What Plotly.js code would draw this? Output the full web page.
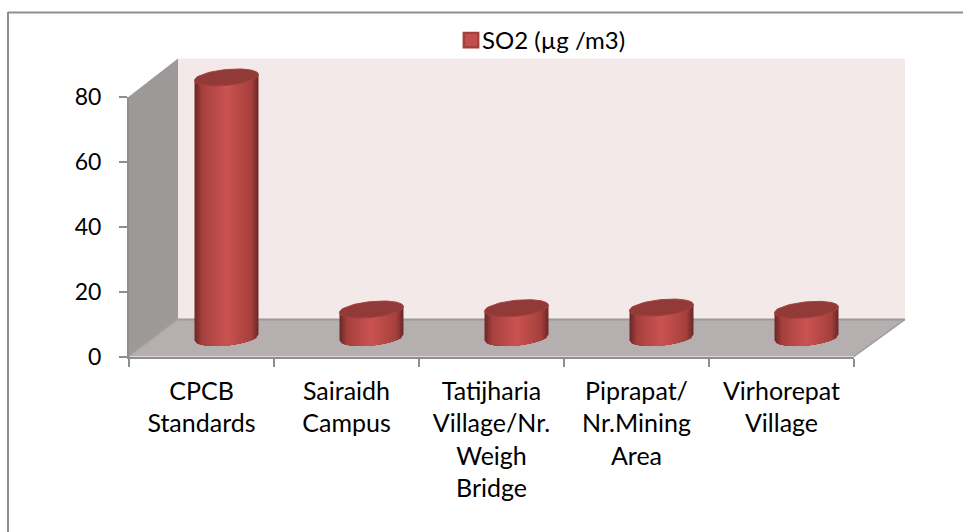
<!DOCTYPE html>
<html>
<head>
<meta charset="utf-8">
<script src="https://cdn.plot.ly/plotly-3.0.1.min.js"></script>
<style>html,body{margin:0;padding:0;background:#fff}#chart{width:963px;height:532px}</style>
</head>
<body>
<div id="chart"></div>
<script>
// ---- data ----
const categories = [
  "CPCB<br>Standards",
  "Sairaidh<br>Campus",
  "Tatijharia<br>Village/Nr.<br>Weigh<br>Bridge",
  "Piprapat/<br>Nr.Mining<br>Area",
  "Virhorepat<br>Village"
];
const so2Values = [80, 8.6, 9, 9.2, 8.5];
const seriesName = "SO2 (µg /m3)";
const yTicks = [0, 20, 40, 60, 80];

// ---- page geometry (pixels) ----
const W = 963, H = 532;
const fx = p => p / W, fy = p => 1 - p / H;
const front = {l: 129, r: 854, b: 356.5, t: 96.5};
const depth = {dx: 49, dy: 38};
const mid = {dx: 25, dy: 19};
const pad = 20;                        // room round the depth axes so tops and bases are not clipped
const pxPerCat = (front.r - front.l) / categories.length;
const pxPerUnit = (front.b - front.t) / 80;
const halfW = 32 / pxPerCat;          // cylinder half width (category units)
const tilt = 3 / pxPerUnit;           // ellipse tilt (value units)
const semi = 8 / pxPerUnit;           // ellipse semi-minor (value units)

function mix(a, b, t) { return a.map((v, i) => Math.round(v + (b[i] - v) * t)); }
function rgb(c) { return `rgb(${c[0]},${c[1]},${c[2]})`; }
function shade(u) { // u: 1 at the rim, 0 at the centre of the cylinder
  const rim = [112, 42, 40], midC = [165, 64, 61], core = [204, 84, 82];
  return u > 0.8 ? rgb(mix(midC, rim, (u - 0.8) / 0.2)) : rgb(mix(core, midC, u / 0.8));
}

const traces = [];
// ghost trace so the front axes draw their ticks and labels
traces.push({type: "scatter", mode: "markers", x: categories, y: so2Values, xaxis: "x", yaxis: "y",
  marker: {opacity: 0, size: 1}, showlegend: false, hoverinfo: "skip"});
// the real bars, on the axes pushed into the chart's depth
traces.push({type: "bar", name: seriesName, x: categories.map((_, i) => i), y: so2Values,
  xaxis: "x2", yaxis: "y2", width: 1.8 * halfW,
  marker: {color: "#c0504d", line: {color: "#a33f3c", width: 2}}, showlegend: true});

// shading: nested tilted-base columns derived from the values
const layers = 18;
for (let k = 0; k < layers; k++) {
  const w = 1 - k / layers;
  const xs = [], ys = [];
  so2Values.forEach((v, i) => {
    const n = 24;
    for (let j = 0; j <= n; j++) {          // bottom arc, left to right
      const u = -w + 2 * w * j / n;
      xs.push(i + u * halfW);
      ys.push(tilt * u - semi * Math.sqrt(Math.max(0, 1 - u * u)));
    }
    xs.push(i + w * halfW); ys.push(v + tilt * w);
    xs.push(i - w * halfW); ys.push(v - tilt * w);
    xs.push(null); ys.push(null);
  });
  traces.push({type: "scatter", mode: "lines", x: xs, y: ys, xaxis: "x2", yaxis: "y2", fill: "toself",
    fillcolor: shade(w), line: {width: 0}, showlegend: false, hoverinfo: "skip"});
}
// cylinder tops
{
  const xs = [], ys = [];
  so2Values.forEach((v, i) => {
    const n = 72;
    for (let j = 0; j <= n; j++) {
      const a = 2 * Math.PI * j / n, u = Math.cos(a);
      xs.push(i + u * halfW);
      ys.push(v + tilt * u + semi * Math.sin(a));
    }
    xs.push(null); ys.push(null);
  });
  traces.push({type: "scatter", mode: "lines", x: xs, y: ys, xaxis: "x2", yaxis: "y2", fill: "toself",
    fillcolor: "#913a38", line: {width: 1, color: "#a5423f"}, showlegend: false, hoverinfo: "skip"});
}

const poly = (pts, fill) => ({type: "path", xref: "paper", yref: "paper", layer: "below",
  path: "M" + pts.map(p => fx(p[0]) + "," + fy(p[1])).join("L") + "Z", fillcolor: fill, line: {width: 0}});
const seg = (a, b, c, w) => ({type: "line", xref: "paper", yref: "paper", layer: "below",
  x0: fx(a[0]), y0: fy(a[1]), x1: fx(b[0]), y1: fy(b[1]), line: {color: c, width: w}});

const backTop = front.t - depth.dy, backBot = front.b - depth.dy + 1;
const bl = front.l + depth.dx, br = front.r + 51;

const shapes = [
  poly([[bl, backTop], [br, backTop], [br, backBot], [bl, backBot]], "#f4e9e9"),
  poly([[front.l, front.t], [bl, backTop], [bl, backBot], [front.l, front.b]], "#9e9999"),
  poly([[bl, backBot], [br, backBot], [front.r, front.b], [front.l, front.b]], "#b6afaf"),
  seg([bl, backBot], [br, backBot], "#9a9a9a", 2),
  seg([br, backBot], [front.r, front.b], "#9a9a9a", 1.5),
  seg([front.l, front.b], [bl, backBot], "#a9a5a5", 1.5),
  seg([8, 12.5], [W, 12.5], "#8e8e8e", 2),
  seg([8, 12], [8, H], "#8e8e8e", 2)
];

const family = "Lato, 'Open Sans', sans-serif";
const xFont = {family, size: 25, color: "#000"};
const yFont = {family, size: 23, color: "#000"};
const layout = {
  width: W, height: H, margin: {l: 0, r: 0, t: 0, b: 0},
  paper_bgcolor: "#fff", plot_bgcolor: "rgba(0,0,0,0)", font: xFont,
  barmode: "overlay", shapes,
  xaxis: {type: "category", categoryorder: "array", categoryarray: categories, tickson: "boundaries",
    domain: [fx(front.l), fx(front.r)], anchor: "y", range: [-0.5, 4.5], showgrid: false,
    showline: true, linecolor: "#8e8e8e", linewidth: 2, ticks: "outside", ticklen: 8, tickwidth: 2,
    tickcolor: "#8e8e8e", tickfont: xFont, tickangle: 0, ticklabelstandoff: 11, automargin: false,
    fixedrange: true, zeroline: false},
  yaxis: {domain: [fy(front.b), fy(front.t)], anchor: "x", range: [0, 80], tickvals: yTicks,
    showgrid: false, zeroline: false, showline: true, linecolor: "#8e8e8e", linewidth: 2, ticks: "outside",
    ticklen: 8, tickwidth: 2, tickcolor: "#8e8e8e", tickfont: yFont, ticklabelstandoff: 13,
    automargin: false, fixedrange: true},
  xaxis2: {domain: [fx(front.l + mid.dx), fx(front.r + mid.dx)], anchor: "y2", range: [-0.5, 4.5],
    visible: false, fixedrange: true},
  yaxis2: {domain: [fy(front.b - mid.dy + pad), fy(front.t - mid.dy - pad)], anchor: "x2",
    range: [-pad / pxPerUnit, 80 + pad / pxPerUnit], visible: false, fixedrange: true},
  showlegend: true,
  legend: {x: fx(442), y: fy(18), xanchor: "left", yanchor: "top", bgcolor: "rgba(0,0,0,0)",
    font: {family, size: 24, color: "#000"}},
  hovermode: false
};

Plotly.newPlot("chart", traces, layout, {displayModeBar: false, staticPlot: true}).then(gd => {
  // the reference's legend swatch sits closer to its text and is a little bigger
  const lp = gd.querySelector(".legend .legendpoints");
  if (lp) lp.setAttribute("transform", "translate(5,0) scale(1.2)");
});
</script>
</body>
</html>
